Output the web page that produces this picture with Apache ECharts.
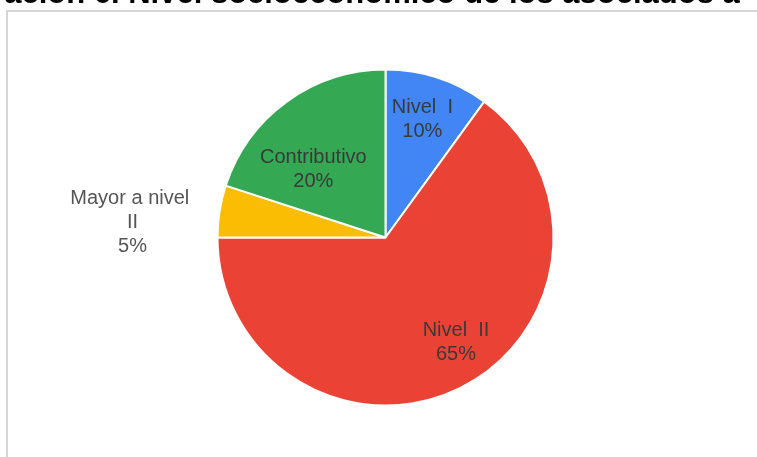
<!DOCTYPE html>
<html>
<head>
<meta charset="utf-8">
<script src="https://cdn.jsdelivr.net/npm/echarts@6/dist/echarts.min.js"></script>
<style>
  html, body { margin: 0; padding: 0; background: #fff; overflow: hidden; }
  #chart { width: 757px; height: 457px; }
</style>
</head>
<body>
<div id="chart"></div>
<script>
// Socioeconomic level of members (share of total, %)
const categories = ['Nivel  I', 'Nivel  II', 'Mayor a nivel II', 'Contributivo'];
const shares = [10, 65, 5, 20];
const sliceColors = ['#4285f4', '#ea4335', '#fbbc04', '#34a853'];
const titleText = 'ación 6. Nivel socioeconómico de los asociados a';

// label nudges relative to the default inside anchor
const labelNudge = [[10, -35], [31, 27], [-167, -1], [-21, 2]];

const chart = echarts.init(document.getElementById('chart'), null, { renderer: 'canvas' });

chart.setOption({
  backgroundColor: '#ffffff',
  animation: false,
  graphic: [
    {
      type: 'rect',
      shape: { x: 7, y: 11, width: 800, height: 500 },
      style: { fill: '#ffffff', stroke: '#d6d6d6', lineWidth: 2 },
      z: -10
    },
    {
      type: 'text',
      x: 372, y: -6,
      style: {
        text: titleText,
        font: 'bold 31px "Liberation Sans", Arial, sans-serif',
        fill: '#000000',
        align: 'center',
        verticalAlign: 'middle'
      }
    }
  ],
  series: [{
    type: 'pie',
    center: [385.5, 237.5],
    radius: 168,
    startAngle: 90,
    clockwise: true,
    itemStyle: { borderColor: '#ffffff', borderWidth: 2 },
    label: {
      position: 'inside',
      formatter: '{b}\n{d}%',
      color: '#3a3a3a',
      fontFamily: '"Liberation Sans", Arial, sans-serif',
      fontSize: 20,
      lineHeight: 24,
      align: 'center'
    },
    labelLine: { show: false },
    labelLayout: function (p) {
      const n = labelNudge[p.dataIndex];
      return { dx: n[0], dy: n[1] };
    },
    data: categories.map(function (c, i) {
      const item = { name: c, value: shares[i], itemStyle: { color: sliceColors[i] } };
      if (i === 2) {
        item.label = { width: 134, overflow: 'break', color: '#555555' };
      }
      return item;
    })
  }]
});
</script>
</body>
</html>
